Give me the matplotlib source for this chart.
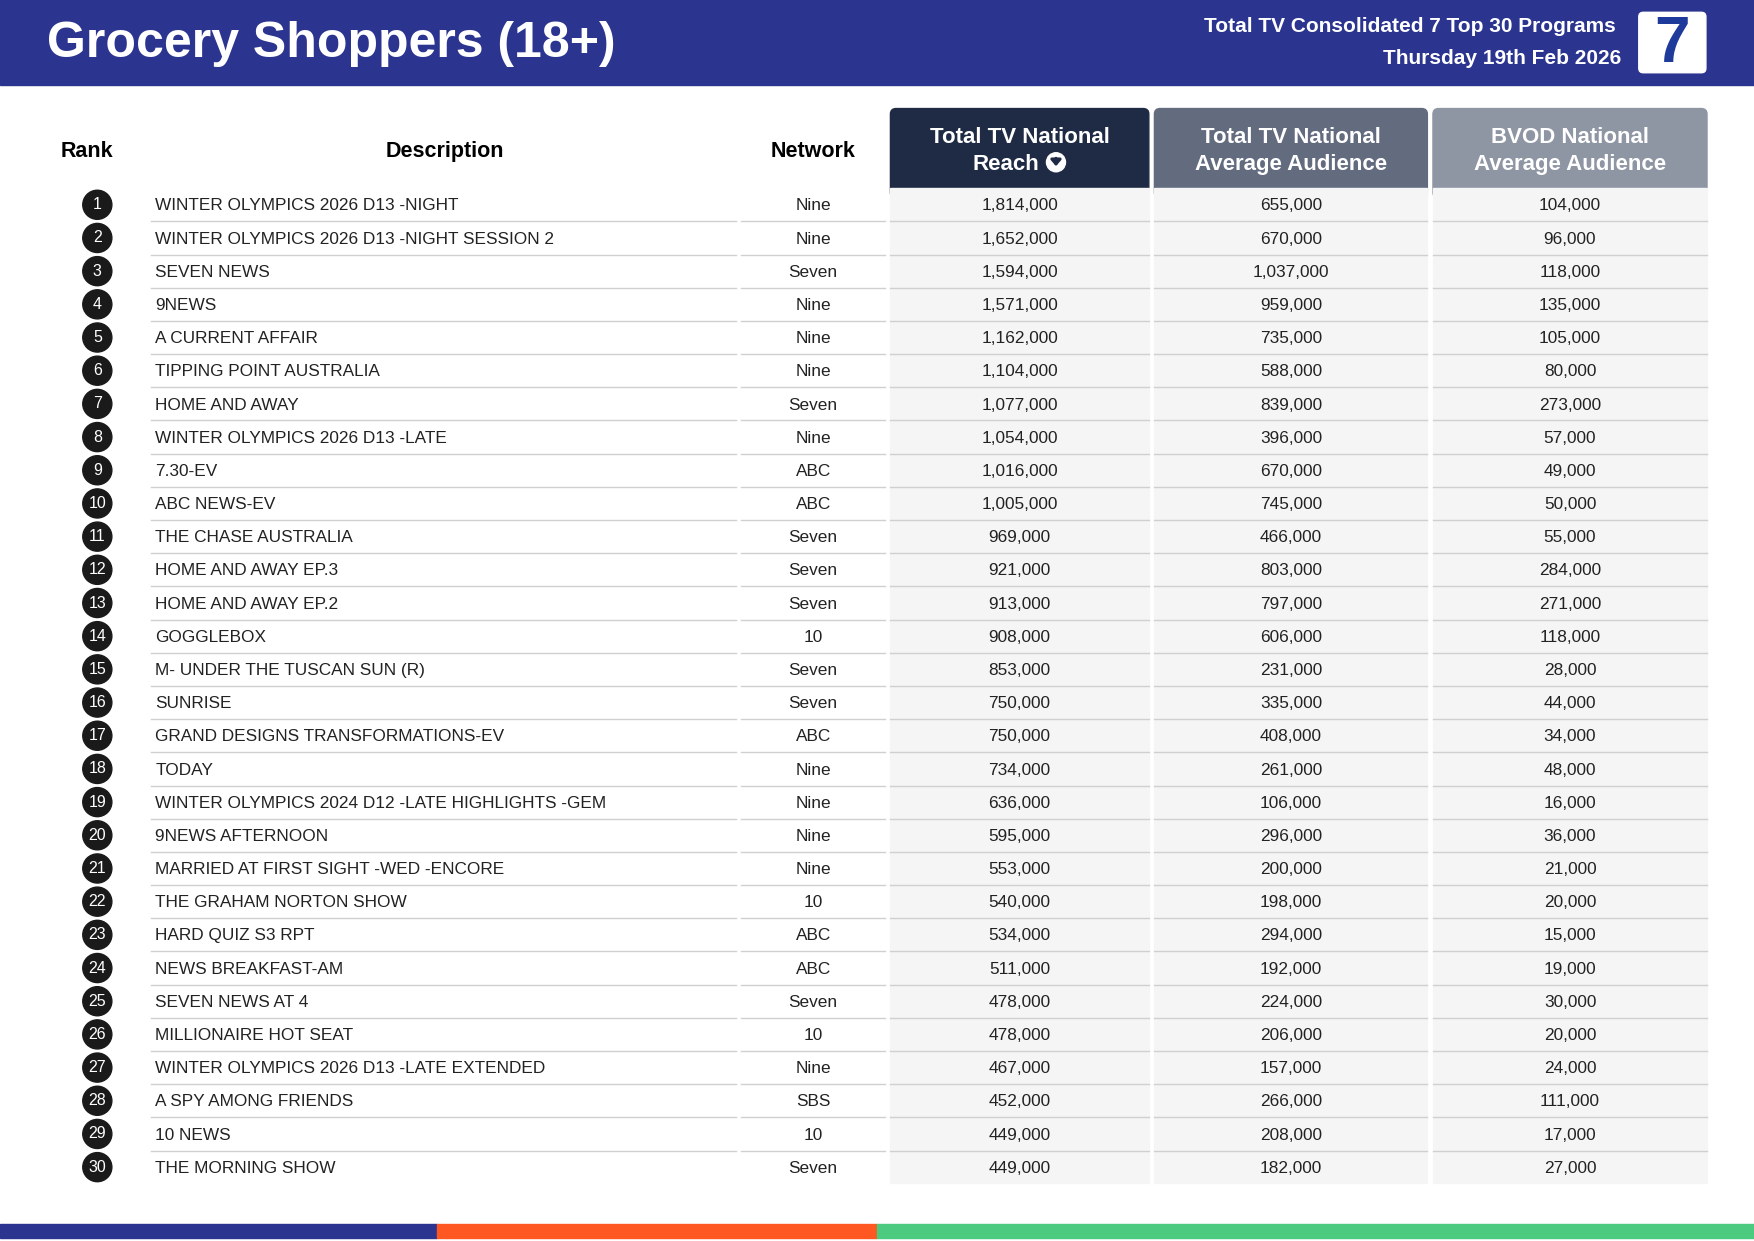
import matplotlib
matplotlib.use("Agg")
import matplotlib.pyplot as plt
from matplotlib.patches import Rectangle, FancyBboxPatch, Circle

plt.rcParams["font.family"] = "Liberation Sans"

ranks = list(range(1, 31))
descriptions = ["WINTER OLYMPICS 2026 D13 -NIGHT", "WINTER OLYMPICS 2026 D13 -NIGHT SESSION 2", "SEVEN NEWS", "9NEWS",
    "A CURRENT AFFAIR", "TIPPING POINT AUSTRALIA", "HOME AND AWAY", "WINTER OLYMPICS 2026 D13 -LATE", "7.30-EV",
    "ABC NEWS-EV", "THE CHASE AUSTRALIA", "HOME AND AWAY EP.3", "HOME AND AWAY EP.2", "GOGGLEBOX",
    "M- UNDER THE TUSCAN SUN (R)", "SUNRISE", "GRAND DESIGNS TRANSFORMATIONS-EV", "TODAY",
    "WINTER OLYMPICS 2024 D12 -LATE HIGHLIGHTS -GEM", "9NEWS AFTERNOON", "MARRIED AT FIRST SIGHT -WED -ENCORE",
    "THE GRAHAM NORTON SHOW", "HARD QUIZ S3 RPT", "NEWS BREAKFAST-AM", "SEVEN NEWS AT 4", "MILLIONAIRE HOT SEAT",
    "WINTER OLYMPICS 2026 D13 -LATE EXTENDED", "A SPY AMONG FRIENDS", "10 NEWS", "THE MORNING SHOW"]
networks = ["Nine", "Nine", "Seven", "Nine", "Nine", "Nine", "Seven", "Nine", "ABC", "ABC", "Seven", "Seven", "Seven",
    "10", "Seven", "Seven", "ABC", "Nine", "Nine", "Nine", "Nine", "10", "ABC", "ABC", "Seven", "10", "Nine", "SBS",
    "10", "Seven"]
reach = [1814000, 1652000, 1594000, 1571000, 1162000, 1104000, 1077000, 1054000, 1016000, 1005000, 969000, 921000,
    913000, 908000, 853000, 750000, 750000, 734000, 636000, 595000, 553000, 540000, 534000, 511000, 478000, 478000,
    467000, 452000, 449000, 449000]
avg_aud = [655000, 670000, 1037000, 959000, 735000, 588000, 839000, 396000, 670000, 745000, 466000, 803000, 797000,
    606000, 231000, 335000, 408000, 261000, 106000, 296000, 200000, 198000, 294000, 192000, 224000, 206000, 157000,
    266000, 208000, 182000]
bvod = [104000, 96000, 118000, 135000, 105000, 80000, 273000, 57000, 49000, 50000, 55000, 284000, 271000, 118000,
    28000, 44000, 34000, 48000, 16000, 36000, 21000, 20000, 15000, 19000, 30000, 20000, 24000, 111000, 17000, 27000]

fig = plt.figure(figsize=(17.54, 12.41), dpi=100)
ax = fig.add_axes([0, 0, 1, 1])
ax.set_xlim(0, 1568); ax.set_ylim(1109, 0); ax.axis("off")

navy = "#2B3590"
ax.add_patch(Rectangle((0, 0), 1568, 76, color=navy))
ax.text(42, 39, "Grocery Shoppers (18+)", color="white", fontsize=36, fontweight="bold", va="center")
ax.text(1444, 24, "Total TV Consolidated 7 Top 30 Programs", color="white", fontsize=15, fontweight="bold", ha="right", va="center")
ax.text(1449, 52, "Thursday 19th Feb 2026", color="white", fontsize=15, fontweight="bold", ha="right", va="center")
ax.add_patch(FancyBboxPatch((1465, 11), 60, 54, boxstyle="round,pad=0,rounding_size=4", color="white"))
ax.text(1495, 40, "7", color="#1E3A9A", fontsize=46, fontweight="bold", ha="center", va="center")

for x, t in [(78, "Rank"), (398, "Description"), (727, "Network")]:
    ax.text(x, 135, t, fontsize=15.5, fontweight="bold", ha="center", va="center")

cols = [(796, 1027, "#1F2A44", "Total TV National", "Reach"), (1032, 1276, "#636B7F", "Total TV National", "Average Audience"),
        (1281, 1526, "#8E95A3", "BVOD National", "Average Audience")]
for k, (x0, x1, c, t1, t2) in enumerate(cols):
    ax.add_patch(FancyBboxPatch((x0, 97), x1 - x0, 80, boxstyle="round,pad=0,rounding_size=5", color=c))
    ax.add_patch(Rectangle((x0, 168), x1 - x0, 1057 - 168, color="#F5F5F5"))
    cx = (x0 + x1) / 2
    ax.text(cx, 123, t1, color="white", fontsize=16, fontweight="bold", ha="center", va="center")
    if k == 0:
        ax.text(cx - 12, 147, t2, color="white", fontsize=16, fontweight="bold", ha="center", va="center")
        ax.add_patch(Circle((944, 145), 8.5, color="white"))
        ax.annotate("", xy=(944, 151), xytext=(944, 139),
                    arrowprops=dict(arrowstyle="-|>,head_length=0.35,head_width=0.3", color=c, lw=2.2))
    else:
        ax.text(cx, 147, t2, color="white", fontsize=16, fontweight="bold", ha="center", va="center")

y0, dy = 183, (1043 - 183) / 29
for i in range(30):
    y = y0 + i * dy
    ax.add_patch(Circle((87, y), 13, color="#1A1A1A"))
    ax.text(87, y, str(ranks[i]), color="white", fontsize=11.5, ha="center", va="center")
    ax.text(139, y + 1, descriptions[i], fontsize=12.4, va="center", color="#222222")
    ax.text(727, y + 1, networks[i], fontsize=12.4, ha="center", va="center", color="#222222")
    for (x0, x1, *_), v in zip(cols, [reach[i], avg_aud[i], bvod[i]]):
        ax.text((x0 + x1) / 2, y + 1, f"{v:,}", fontsize=12.4, ha="center", va="center", color="#222222")
    if i < 29:
        yl = y + dy / 2
        for x0, x1 in [(135, 658), (662, 791), (796, 1027), (1032, 1276), (1281, 1526)]:
            ax.plot([x0, x1], [yl, yl], color="#D0D0D0", lw=1)

ax.add_patch(Rectangle((0, 1094), 391, 12, color=navy))
ax.add_patch(Rectangle((391, 1094), 393, 12, color="#FF5722"))
ax.add_patch(Rectangle((784, 1094), 784, 12, color="#4CCB80"))
fig.savefig("out.png", dpi=100)
